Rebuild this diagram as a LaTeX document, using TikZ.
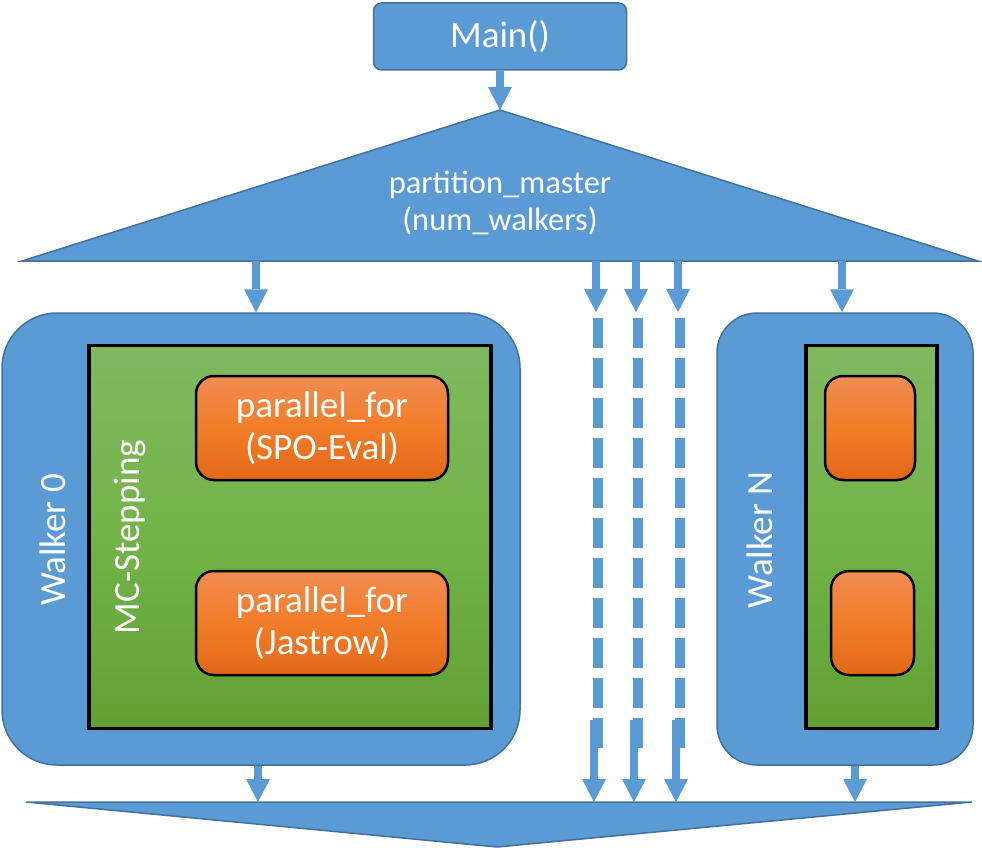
\documentclass[tikz,border=0pt]{standalone}
\usepackage{fontspec}
\setmainfont{Carlito}
\usepackage{tikz}
\usetikzlibrary{positioning}
\usetikzlibrary{arrows.meta}
\usetikzlibrary{shadows}

\definecolor{boxblue}{HTML}{5B9BD5}
\definecolor{edgeblue}{HTML}{41719C}
\definecolor{greentop}{HTML}{80B860}
\definecolor{greenmid}{HTML}{72B448}
\definecolor{greenbot}{HTML}{62A034}
\definecolor{orangetop}{HTML}{F08C52}
\definecolor{orangemid}{HTML}{F27C28}
\definecolor{orangebot}{HTML}{E26818}

\newcommand{\boxfont}{\fontsize{37}{42}\selectfont}
\newcommand{\pmfont}{\fontsize{32.5}{37}\selectfont}

\begin{document}
\begin{tikzpicture}[x=1pt, y=-1pt, >={Triangle[width=24pt,length=23pt,line width=0pt]},
    bluebox/.style={draw=edgeblue, line width=1.5pt, fill=boxblue, text=white, inner sep=0pt},
    mcbox/.style={draw=black, line width=3.5pt, top color=greentop, bottom color=greenbot, middle color=greenmid,
        drop shadow={opacity=0.3, shadow xshift=2pt, shadow yshift=-2pt}, minimum height=383pt, inner sep=0pt},
    forbox/.style={draw=black, line width=2.5pt, rounded corners=18pt, top color=orangetop, bottom color=orangebot, middle color=orangemid,
        drop shadow={opacity=0.2, shadow xshift=1.5pt, shadow yshift=-1.5pt},
        text=white, align=center, inner sep=0pt, minimum height=104pt, font=\boxfont},
    sidetext/.style={text=white, rotate=90, font=\boxfont},
    flow/.style={->, draw=boxblue, line width=8pt},
    dashline/.style={draw=boxblue, line width=10pt, dash pattern=on 30pt off 10pt}]
    \useasboundingbox (0,0) rectangle (982,848);

    % top
    \node[bluebox, rounded corners=8pt, minimum width=253pt, minimum height=67pt, font=\boxfont] (main) at (500,36.5) {Main()};
    \draw[draw=edgeblue, line width=1.5pt, fill=boxblue] (22,261) coordinate (pmleft) -- (500,110) coordinate (pmtop)
        -- (978,261) coordinate (pmright) -- cycle;
    \node[text=white, align=center, font=\pmfont] (pm) at (500,203) {partition\_master\\(num\_walkers)};

    % walkers
    \node[bluebox, rounded corners=55pt, minimum width=518pt, minimum height=452pt] (w0) at (261,539) {};
    \node[bluebox, rounded corners=40pt, minimum width=256pt, minimum height=452pt] (wN) at (845,539) {};
    \node[mcbox, minimum width=402pt] (mc0) at (290,537) {};
    \node[mcbox, minimum width=131pt] (mcN) at (871.5,537) {};
    \node[forbox, minimum width=252pt] (spo0) at (322,428) {parallel\_for\\(SPO-Eval)};
    \node[forbox, minimum width=252pt] (jas0) at (322,623) {parallel\_for\\(Jastrow)};
    \node[forbox, minimum width=90pt] (spoN) at (870,428) {};
    \node[forbox, minimum width=83pt] (jasN) at (872.5,623) {};
    \node[sidetext] (w0text) at (53,540) {Walker 0};
    \node[sidetext] (mctext) at (130,537) {MC-Stepping};
    \node[sidetext] (wNtext) at (760,540) {Walker N};

    % bottom
    \draw[draw=edgeblue, line width=1.5pt, fill=boxblue] (26,802) coordinate (joinleft) -- (972,802) coordinate (joinright)
        -- (497,847) coordinate (jointip) -- cycle;

    % arrows
    \draw[flow] (main.south) -- (pmtop);
    \coordinate (a0) at (256,261);
    \coordinate (aN) at (842,261);
    \draw[flow] (a0) -- (a0 |- w0.north);
    \draw[flow] (aN) -- (aN |- wN.north);
    \foreach \x [count=\i] in {596,636,678} {
        \coordinate (top\i) at (\x,261);
        \coordinate (bot\i) at (\x-2,802);
        \draw[flow] (top\i) -- ++(0,51);
        \draw[dashline] (\x+2,318) -- (\x+2,748);
        \draw[flow] (\x-2,720) -- (bot\i);
    }
    \coordinate (b0) at (258,802);
    \coordinate (bN) at (855,802);
    \draw[flow] (b0 |- w0.south) -- (b0);
    \draw[flow] (bN |- wN.south) -- (bN);
\end{tikzpicture}
\end{document}
